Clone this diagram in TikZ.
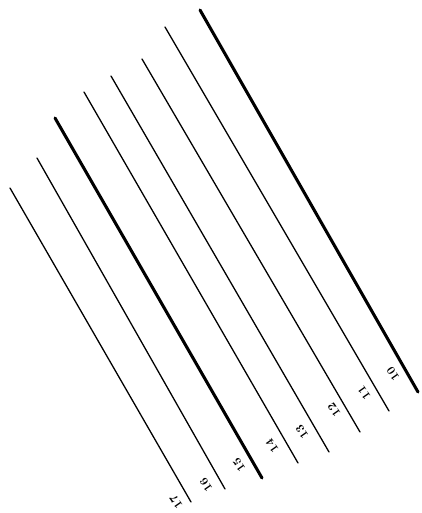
\documentclass[tikz,border=0pt]{standalone}
\usepackage{tikz}
\usetikzlibrary{positioning}

\begin{document}
\begin{tikzpicture}[x=0.03cm, y=-0.03cm,
        every node/.style={font=\normalsize\bfseries},
        contour/.style={line width=1.1pt, line cap=round},
        main/.style={line width=2.6pt, line cap=round},
        num/.style={inner sep=0pt, rotate=125}]
        \useasboundingbox (0,0) rectangle (421,513);

        % top and bottom ends of each contour
        \foreach \n/\xa/\ya/\xb/\yb in {10/200/10/418/392, 11/165/27/389/411, 12/142/59/360/432,
                13/111/76/329/452, 14/84/92/298/463, 15/55/118/262/478,
                16/37/158/225/489, 17/10/188/191/502} {
            \coordinate (t\n) at (\xa,\ya);
            \coordinate (b\n) at (\xb,\yb);
        }

        % labels
        \foreach \n/\lx/\ly in {10/393/374, 11/364/393, 12/334/410, 13/302/432,
                14/272/446, 15/239/465, 16/206/485, 17/176/502}
            \node[num] (lab\n) at (\lx,\ly) {\n};

        \draw[main] (t10) -- (b10);
        \draw[main] (t15) -- (b15);
        \foreach \n in {11,12,13,14,16,17}
            \draw[contour] (t\n) -- (b\n);
    \end{tikzpicture}
\end{document}
